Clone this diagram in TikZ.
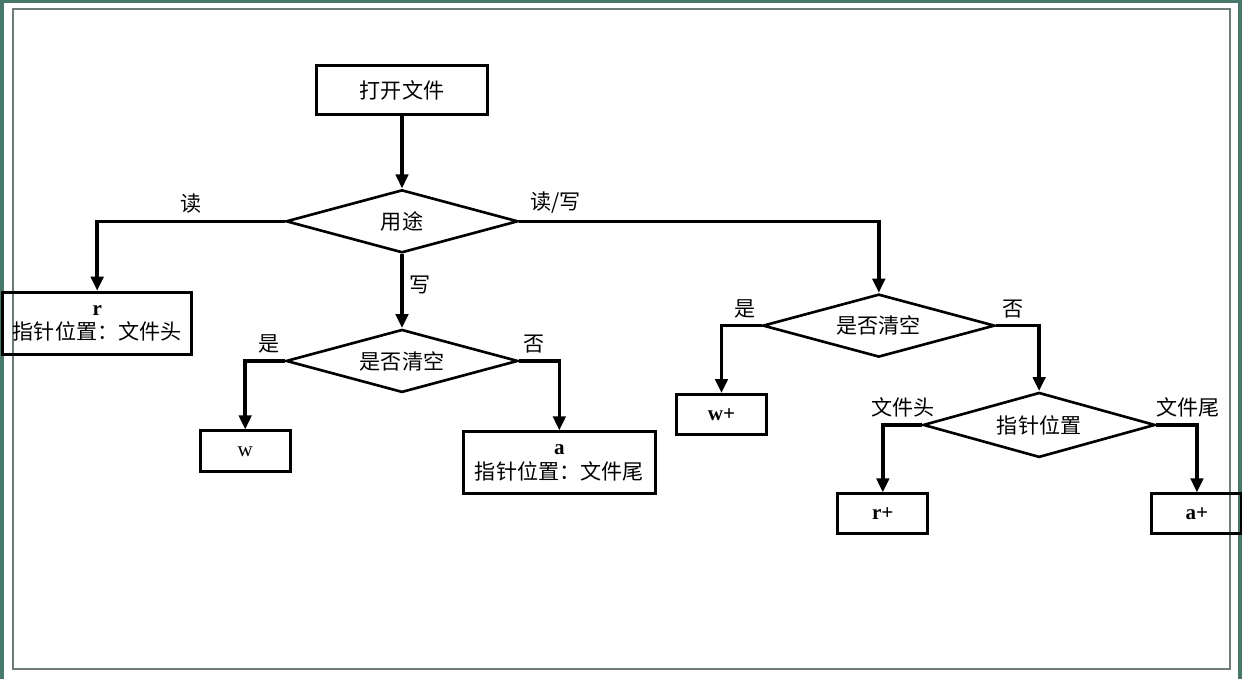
\documentclass[tikz,border=0pt]{standalone}
\usepackage{fontspec}
\setmainfont{Liberation Serif}
\newfontfamily\cjk{Noto Sans CJK SC}
\usepackage{tikz}
\usetikzlibrary{shapes.geometric, arrows.meta, positioning}
\definecolor{frameteal}{RGB}{72,120,108}
\definecolor{framegray}{RGB}{110,125,118}

\begin{document}
\begin{tikzpicture}[
    box/.style={rectangle, draw, line width=1.7pt, minimum width=1.8cm, minimum height=0.8cm, align=center, font=\cjk\large, inner sep=2pt},
    decision/.style={diamond, draw, line width=1.5pt, aspect=3.68, minimum width=4.64cm, minimum height=1.26cm, inner sep=1pt, font=\cjk\large},
    arrow/.style={-{Triangle[length=8pt,width=7pt]}, line width=2pt},
    choice/.style={font=\cjk\large}
]

% Frame
\useasboundingbox (0,0) rectangle (24.84,-13.58);
\fill[frameteal] (0,0) rectangle (24.84,-13.58);
\fill[white] (0.08,-0.06) rectangle (24.76,-13.58);
\draw[framegray, line width=0.6pt] (0.26,-0.18) rectangle (24.6,-13.38);

% Open file
\node[box, minimum width=3.42cm, minimum height=0.98cm] (open) at (8.04,-1.81) {打开文件};

% Usage
\node[decision, below=1.44cm of open] (use) {用途};

% Read only
\node[box, minimum width=3.78cm, minimum height=1.24cm, below left=1.39cm and 1.83cm of use.west] (rd) {\textbf{\textrm{r}}\\指针位置：文件头};

% Write
\node[decision, below=1.48cm of use] (clr1) {是否清空};
\node[box, minimum height=0.82cm, below=1.37cm of clr1.west, xshift=-0.79cm] (wr) {\textrm{w}};
\node[box, minimum width=3.84cm, minimum height=1.24cm, below=1.39cm of clr1.east, xshift=0.8cm] (ap) {\textbf{\textrm{a}}\\指针位置：文件尾};

% Read / write
\node[decision, below=1.43cm of use.east, xshift=7.19cm] (clr2) {是否清空};
\node[box, below=1.35cm of clr2.west, xshift=-0.8cm] (wplus) {\textbf{\textrm{w+}}};
\node[decision, minimum height=1.3cm, below=1.31cm of clr2.east, xshift=0.86cm] (ptr) {指针位置};
\node[box, below=1.35cm of ptr.west, xshift=-0.78cm] (rplus) {\textbf{\textrm{r+}}};
\node[box, below=1.35cm of ptr.east, xshift=0.81cm] (aplus) {\textbf{\textrm{a+}}};

% Arrows
\draw[arrow] (open) -- (use);
\draw[arrow] (use.west) -| node[pos=0.25, above, choice] {读} (rd.north);
\draw[arrow] (use.east) -| node[pos=0.05, above, choice] {读/写} (clr2.north);
\draw[arrow] (use) -- node[pos=0.42, right, choice] {写} (clr1);
\draw[arrow] (clr1.west) -| node[pos=0.2, above, choice] {是} (wr.north);
\draw[arrow] (clr1.east) -| node[pos=0.18, above, choice] {否} (ap.north);
\draw[arrow] (clr2.west) -| node[pos=0.21, above, choice] {是} (wplus.north);
\draw[arrow] (clr2.east) -| node[pos=0.2, above, choice] {否} (ptr.north);
\draw[arrow] (ptr.west) -| node[pos=0.24, above, choice] {文件头} (rplus.north);
\draw[arrow] (ptr.east) -| node[pos=0.39, above, choice] {文件尾} (aplus.north);

\end{tikzpicture}
\end{document}
